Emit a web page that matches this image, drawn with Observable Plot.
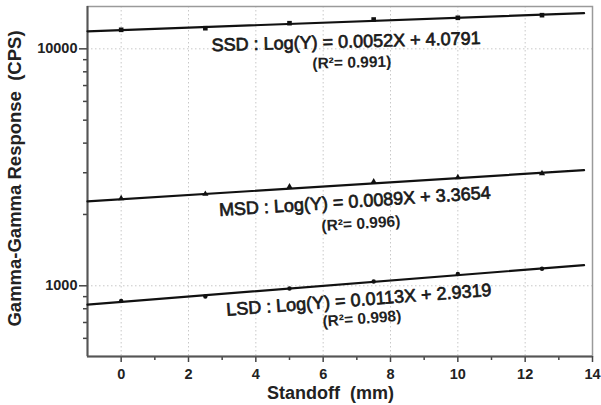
<!DOCTYPE html>
<html><head><meta charset="utf-8">
<script src="https://cdn.jsdelivr.net/npm/d3@7"></script>
<script src="https://cdn.jsdelivr.net/npm/@observablehq/plot@0.6"></script>
<style>body{margin:0;background:#fff} #chart svg{display:block}</style>
</head><body><div id="chart"></div>
<script>
// Data
const standoff = [0, 2.5, 5, 7.5, 10, 12.5];
const ssd = [12030, 12220, 12830, 13300, 13520, 13870];
const msd = [2337, 2440, 2620, 2750, 2868, 2981];
const lsd = [864, 901, 974, 1043, 1121, 1180];
const seriesNames = ["SSD", "MSD", "LSD"];
const slopes = [0.0052, 0.0089, 0.0113];
const intercepts = [4.0791, 3.3654, 2.9319];
const r2Values = ["0.991", "0.996", "0.998"];
const fitRange = [-1, 13.75];
const xMajor = [0, 2, 4, 6, 8, 10, 12, 14];
const xMinor = [1, 3, 5, 7, 9, 11, 13];
const yMajor = [1000, 10000];
const yMinor = [600, 700, 800, 900, 2000, 3000, 4000, 5000, 6000, 7000, 8000, 9000];
// label anchor (x along fit line) and offsets
const eqLabelX = [6.68, 6.94, 7.06];
const eqLabelDy = [20, 17, 17];
const r2LabelX = [6.85, 7.12, 7.15];
const r2LabelDy = [41, 39.5, 36];
const labelRotate = [-1.5, -3.7, -4.3];

const font = "'Liberation Sans', Arial, Helvetica, sans-serif";
const seriesValues = [ssd, msd, lsd];
const pts = seriesValues.map(vals => standoff.map((x, i) => ({x, y: vals[i]})));
const fitLines = seriesNames.map((s, k) => fitRange.map(x => ({x, y: Math.pow(10, intercepts[k] + slopes[k] * x), s})));
const eqLabels = seriesNames.map((s, k) => ({
  x: eqLabelX[k], y: Math.pow(10, intercepts[k] + slopes[k] * eqLabelX[k]),
  text: `${s} : Log(Y) = ${slopes[k].toFixed(4)}X + ${intercepts[k].toFixed(4)}`,
  dy: eqLabelDy[k], rot: labelRotate[k]
}));
const r2Labels = seriesNames.map((s, k) => ({
  x: r2LabelX[k], y: Math.pow(10, intercepts[k] + slopes[k] * r2LabelX[k]),
  text: `(R\u00B2= ${r2Values[k]})`, dy: r2LabelDy[k], rot: labelRotate[k]
}));

const marks = [
  Plot.gridX(xMajor.filter(d => d < 14), {stroke: "#c8c8c8", strokeOpacity: 1, strokeDasharray: "1.5,2.5"}),
  Plot.gridY(yMajor, {stroke: "#c8c8c8", strokeOpacity: 1, strokeDasharray: "1.5,2.5"}),
  Plot.frame({stroke: "#9a9a9a", strokeWidth: 1.5}),
  Plot.axisX(xMajor, {tickSize: 6, tickPadding: 6, fontSize: 14.5, fontWeight: "bold", fill: "#222", stroke: "#444", strokeWidth: 1.5, label: null}),
  Plot.axisX(xMinor, {tickSize: 4, tickFormat: () => "", stroke: "#444", strokeWidth: 1.5, label: null}),
  Plot.axisY(yMajor, {tickSize: 8, tickPadding: 2, tickFormat: d => String(d), fontSize: 14.5, fontWeight: "bold", fill: "#222", stroke: "#444", strokeWidth: 1.5, label: null}),
  Plot.axisY(yMinor, {tickSize: 4, tickFormat: () => "", stroke: "#444", strokeWidth: 1.5, label: null}),
  Plot.ruleX([fitRange[0]], {stroke: "#555", strokeWidth: 2}),
  Plot.ruleY([503], {stroke: "#555", strokeWidth: 2}),
];
fitLines.forEach(l => marks.push(Plot.line(l, {x: "x", y: "y", stroke: "#111", strokeWidth: 2.2})));
marks.push(Plot.dot(pts[0], {x: "x", y: "y", symbol: "square", r: 2.6, fill: "#111"}));
marks.push(Plot.dot(pts[1], {x: "x", y: "y", symbol: "triangle", r: 2.3, fill: "#111"}));
marks.push(Plot.dot(pts[2], {x: "x", y: "y", symbol: "circle", r: 2.2, fill: "#111"}));
eqLabels.forEach(d => marks.push(Plot.text([d], {x: "x", y: "y", text: "text", dy: d.dy, rotate: d.rot, fontSize: 18, fill: "#1a1a1a", stroke: "#1a1a1a", strokeWidth: 0.7, textAnchor: "middle", lineAnchor: "middle"})));
r2Labels.forEach(d => marks.push(Plot.text([d], {x: "x", y: "y", text: "text", dy: d.dy, rotate: d.rot, fontSize: 15.5, fontWeight: "bold", fill: "#222", textAnchor: "middle", lineAnchor: "middle"})));
marks.push(Plot.text(["Gamma-Gamma Response  (CPS)"], {frameAnchor: "left", dx: -72, dy: -3, rotate: -90, fontSize: 18.5, fontWeight: "bold", fill: "#222", textAnchor: "middle", lineAnchor: "middle"}));
marks.push(Plot.text(["Standoff  (mm)"], {frameAnchor: "bottom", dx: -9.5, dy: 36.5, fontSize: 18, fontWeight: "bold", fill: "#222", textAnchor: "middle", lineAnchor: "middle"}));

const chart = Plot.plot({
  width: 601, height: 405,
  marginLeft: 87, marginRight: 9, marginTop: 6, marginBottom: 49,
  style: {fontFamily: font, background: "#fff", color: "#222"},
  x: {domain: [-1, 14]},
  y: {type: "log", domain: [503, 15090]},
  marks
});
document.getElementById("chart").appendChild(chart);
</script>
</body></html>
